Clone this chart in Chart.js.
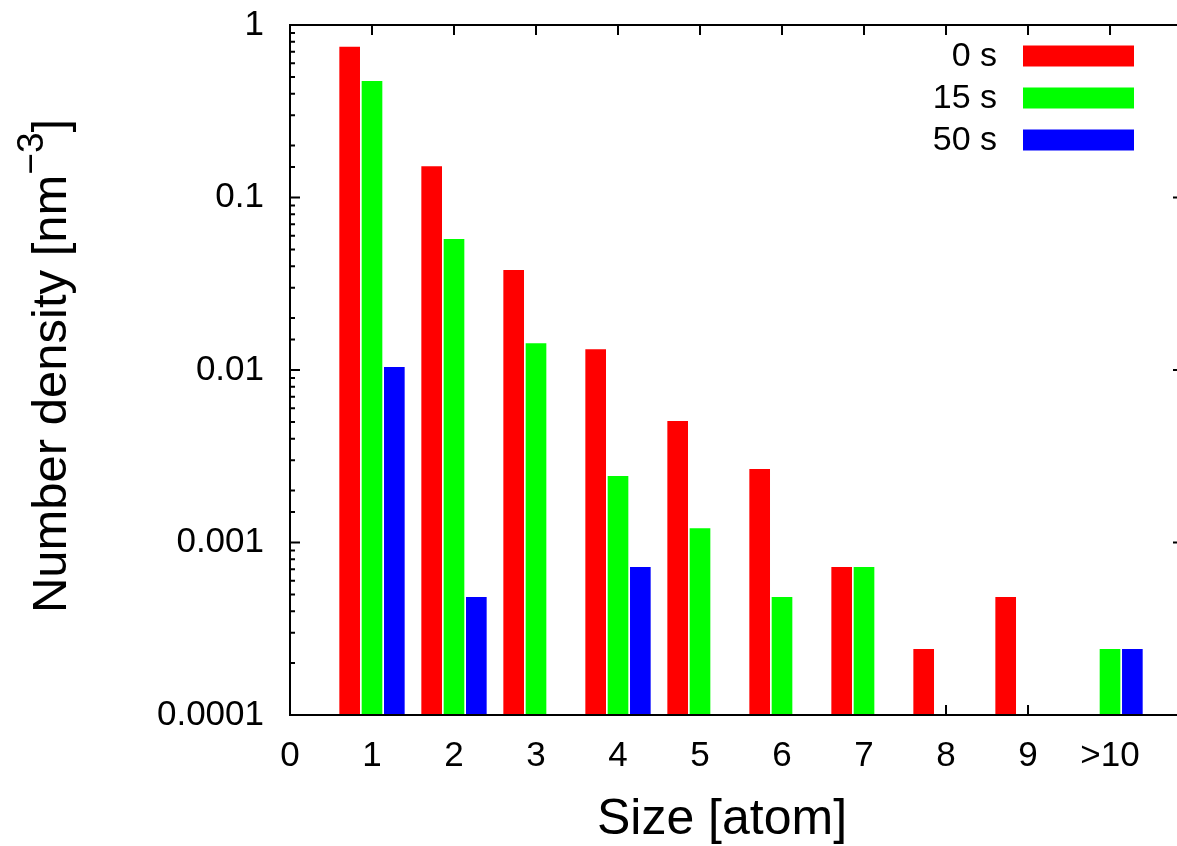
<!DOCTYPE html>
<html>
<head>
<meta charset="utf-8">
<script src="https://cdn.jsdelivr.net/npm/chart.js@4/dist/chart.umd.min.js"></script>
<style>
  html, body { margin: 0; padding: 0; overflow: hidden; background: #fff; }
  canvas { display: block; }
</style>
</head>
<body>
<canvas id="chart" width="1195" height="846"></canvas>
<script>
// Cluster sizes on the x axis (10 stands for the ">10" bin)
const sizes = [1, 2, 3, 4, 5, 6, 7, 8, 9, 10];
const xTickLabels = ['0', '1', '2', '3', '4', '5', '6', '7', '8', '9', '>10'];
const yTickLabels = ['0.0001', '0.001', '0.01', '0.1', '1'];
const seriesNames = ['0 s', '15 s', '50 s'];
const seriesColors = ['#ff0000', '#00ff00', '#0000ff'];

// Number density [nm^-3] per cluster size
const density0s  = [0.748, 0.152, 0.038, 0.0132, 0.00506, 0.00267, 0.00072, 0.000241, 0.000483, null];
const density15s = [0.474, 0.0575, 0.0143, 0.00243, 0.00121, 0.000483, 0.00072, null, null, 0.000241];
const density50s = [0.0104, 0.000483, null, 0.00072, null, null, null, null, null, 0.000241];

const FONT = '"Liberation Sans", Arial, Helvetica, sans-serif';

function toPoints(values) {
  return sizes.map((s, i) => ({ x: s, y: values[i] }));
}

const datasets = [density0s, density15s, density50s].map((vals, i) => ({
  label: seriesNames[i],
  data: toPoints(vals),
  backgroundColor: seriesColors[i],
  borderWidth: 0,
  categoryPercentage: 0.817,
  barPercentage: 0.925
}));

// Frame, inward tick marks, legend and axis titles
const framePlugin = {
  id: 'frame',
  beforeDatasetsDraw(chart) {
    const { ctx, chartArea: a, scales: { x, y } } = chart;
    ctx.save();
    ctx.strokeStyle = '#000';
    ctx.lineWidth = 2;
    ctx.beginPath();
    x.ticks.forEach(t => {
      const px = x.getPixelForValue(t.value);
      ctx.moveTo(px, a.bottom); ctx.lineTo(px, a.bottom - 10);
      ctx.moveTo(px, a.top); ctx.lineTo(px, a.top + 10);
    });
    y.ticks.forEach(t => {
      const py = y.getPixelForValue(t.value);
      const lg = Math.log10(t.value);
      const len = Math.abs(lg - Math.round(lg)) < 1e-9 ? 10 : 5;
      ctx.moveTo(a.left, py); ctx.lineTo(a.left + len, py);
      ctx.moveTo(a.right, py); ctx.lineTo(a.right - len, py);
    });
    ctx.stroke();
    ctx.restore();
  },
  afterDatasetsDraw(chart) {
    const { ctx, chartArea: a } = chart;
    ctx.save();
    ctx.strokeStyle = '#000';
    ctx.lineWidth = 2;
    ctx.strokeRect(a.left, a.top, a.right - a.left, a.bottom - a.top);

    // legend: right-aligned text followed by a long colour swatch
    ctx.font = '34px ' + FONT;
    ctx.textAlign = 'right';
    ctx.textBaseline = 'middle';
    chart.data.datasets.forEach((ds, i) => {
      const cy = 56 + 42 * i;
      ctx.fillStyle = '#000';
      ctx.fillText(ds.label, 997, cy + 1);
      ctx.fillStyle = ds.backgroundColor;
      ctx.fillRect(1023, cy - 10.5, 111, 21);
    });

    // x title
    ctx.fillStyle = '#000';
    ctx.font = '50px ' + FONT;
    ctx.textAlign = 'center';
    ctx.fillText('Size [atom]', 722, 820);

    // y title with superscript
    const main = 'Number density [nm';
    const sup = '\u22123';
    const end = ']';
    ctx.font = '49px ' + FONT;
    const wMain = ctx.measureText(main).width;
    const wEnd = ctx.measureText(end).width;
    ctx.font = '37px ' + FONT;
    const wSup = ctx.measureText(sup).width;
    const total = wMain + wSup + wEnd;
    ctx.translate(52, 366);
    ctx.rotate(-Math.PI / 2);
    ctx.textAlign = 'left';
    let cx = -total / 2;
    ctx.font = '49px ' + FONT;
    ctx.fillText(main, cx, 0);
    cx += wMain;
    ctx.font = '37px ' + FONT;
    ctx.fillText(sup, cx, -19);
    cx += wSup;
    ctx.font = '49px ' + FONT;
    ctx.fillText(end, cx, 0);
    ctx.restore();
  }
};

new Chart(document.getElementById('chart'), {
  type: 'bar',
  data: { datasets },
  options: {
    responsive: false,
    animation: false,
    events: [],
    layout: { padding: { top: 25, right: 12, left: 0, bottom: 0 } },
    plugins: { legend: { display: false }, tooltip: { enabled: false } },
    scales: {
      x: {
        type: 'linear',
        offset: false,
        min: 0,
        max: 10.89,
        grid: { display: false, drawTicks: false, offset: false },
        border: { display: false },
        afterFit(scale) {
          scale.height = 131;
          scale.paddingLeft = 0;
          scale.paddingRight = 0;
        },
        ticks: {
          stepSize: 1,
          includeBounds: false,
          autoSkip: false,
          maxRotation: 0,
          padding: 20,
          color: '#000',
          font: { family: FONT, size: 35 },
          callback: v => xTickLabels[Math.round(v)]
        }
      },
      y: {
        type: 'logarithmic',
        min: 0.0001,
        max: 1,
        grid: { display: false, drawTicks: false },
        border: { display: false },
        afterFit(scale) {
          scale.width = 290;
          scale.paddingTop = 0;
          scale.paddingBottom = 0;
        },
        ticks: {
          autoSkip: false,
          padding: 26,
          color: '#000',
          font: { family: FONT, size: 35 },
          callback: v => {
            const lg = Math.log10(v);
            if (Math.abs(lg - Math.round(lg)) > 1e-9) return '';
            return yTickLabels[Math.round(lg) + 4];
          }
        }
      }
    }
  },
  plugins: [framePlugin]
});
</script>
</body>
</html>
